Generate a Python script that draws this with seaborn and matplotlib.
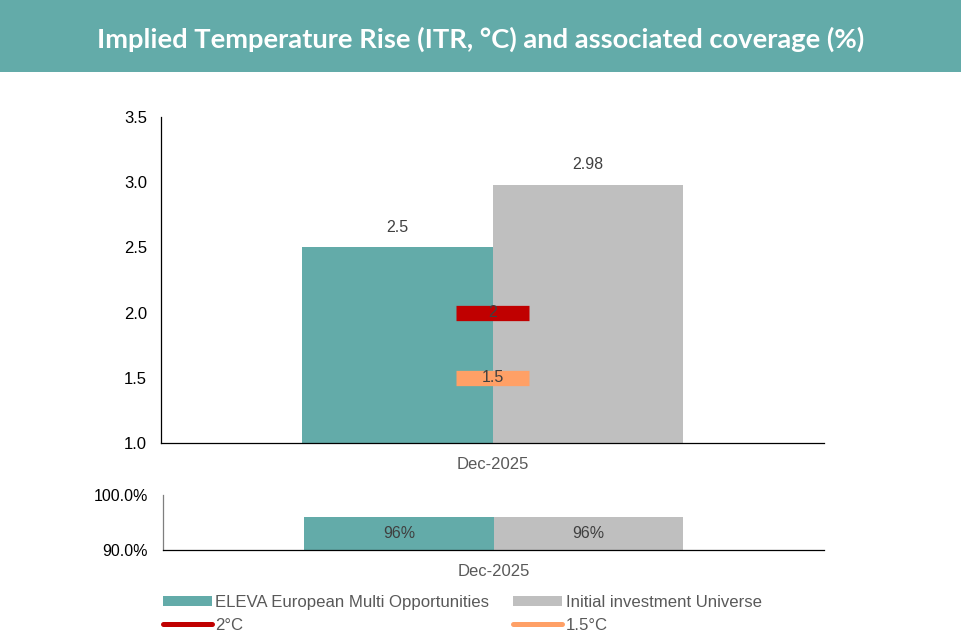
import matplotlib
matplotlib.use("Agg")
import matplotlib.pyplot as plt
import seaborn as sns
import pandas as pd
from matplotlib.patches import Rectangle, Patch
from matplotlib.lines import Line2D
from matplotlib.ticker import FuncFormatter

# ---- data ----
categories = ["Dec-2025"]
series = ["ELEVA European Multi Opportunities", "Initial investment Universe"]
itr_values = [2.5, 2.98]
coverage_values = [0.96, 0.96]
ref_labels = ["2°C", "1.5°C"]
ref_values = [2.0, 1.5]
ref_texts = ["2", "1.5"]
itr_ticks = [1.0, 1.5, 2.0, 2.5, 3.0, 3.5]
cov_ticks = [0.9, 1.0]

teal = "#63ABA9"
grey = "#BFBFBF"
ref_colors = ["#C00000", "#FFA066"]

sns.set_style("white")
plt.rcParams["font.family"] = ["Liberation Sans", "DejaVu Sans"]

fig = plt.figure(figsize=(9.61, 6.34), dpi=100)

# title band
fig.patches.append(Rectangle((0, 1 - 72 / 634), 1, 72 / 634, transform=fig.transFigure,
                             facecolor=teal, edgecolor="none", zorder=0))
fig.text(0.5, 1 - 39 / 634, "Implied Temperature Rise (ITR, °C) and associated coverage (%)",
         ha="center", va="center", color="white", fontsize=19.7, fontweight="bold",
         family=["Lato", "DejaVu Sans"])

df_itr = pd.DataFrame({"cat": categories * 2, "series": series, "val": itr_values})
df_cov = pd.DataFrame({"cat": categories * 2, "series": series, "val": coverage_values})
pal = {series[0]: teal, series[1]: grey}

# ---- top axes ----
ax1 = fig.add_axes([161 / 961, 1 - 443 / 634, 663 / 961, 326 / 634])
sns.barplot(data=df_itr, x="cat", y="val", hue="series", palette=pal, width=0.575,
            ax=ax1, legend=False, saturation=1, linewidth=0)
ax1.set_ylim(1.0, 3.5)
ax1.set_xlim(-0.5, 0.5)
ax1.set_yticks(itr_ticks)
ax1.yaxis.set_major_formatter(FuncFormatter(lambda v, p: f"{v:.1f}"))
for c in ax1.containers:
    ax1.bar_label(c, labels=[f"{v:g}" for v in c.datavalues], padding=9,
                  fontsize=11.5, color="#404040")
for val, col, txt in zip(ref_values, ref_colors, ref_texts):
    ax1.hlines(val, -0.055, 0.055, colors=col, linewidth=11, zorder=5)
    ax1.text(0, val, txt, ha="center", va="center", fontsize=11.5, color="#404040", zorder=6)
ax1.set_xlabel("")
ax1.set_ylabel("")

# ---- bottom axes ----
ax2 = fig.add_axes([163 / 961, 1 - 550 / 634, 661 / 961, 55 / 634])
sns.barplot(data=df_cov, x="cat", y="val", hue="series", palette=pal, width=0.572,
            ax=ax2, legend=False, saturation=1, linewidth=0)
ax2.set_ylim(0.9, 1.0)
ax2.set_xlim(-0.5, 0.5)
ax2.set_yticks(cov_ticks)
ax2.yaxis.set_major_formatter(FuncFormatter(lambda v, p: f"{v * 100:.1f}%"))
for c in ax2.containers:
    for bar, v in zip(c.patches, c.datavalues):
        ax2.text(bar.get_x() + bar.get_width() / 2, (0.9 + v) / 2, f"{v * 100:.0f}%",
                 ha="center", va="center", fontsize=11.5, color="#404040")
ax2.set_xlabel("")
ax2.set_ylabel("")

for ax in (ax1, ax2):
    sns.despine(ax=ax, top=True, right=True)
    ax.spines["left"].set_color("#000000")
    ax.spines["bottom"].set_color("#000000")
    ax.spines["left"].set_linewidth(0.9)
    ax.spines["bottom"].set_linewidth(0.9)
    ax.tick_params(axis="y", length=0, pad=10, labelsize=12, labelcolor="#000000")
    ax.tick_params(axis="x", length=0, pad=10, labelsize=12, labelcolor="#595959")
ax2.spines["left"].set_color("#7F7F7F")
ax2.tick_params(axis="y", pad=11, labelsize=11.5)

# ---- legend ----
handles = [Patch(facecolor=teal, edgecolor="none"),
           Line2D([0], [0], color=ref_colors[0], linewidth=3.6, solid_capstyle="round"),
           Patch(facecolor=grey, edgecolor="none"),
           Line2D([0], [0], color=ref_colors[1], linewidth=3.6, solid_capstyle="round")]
labels = [series[0], ref_labels[0], series[1], ref_labels[1]]
fig.legend(handles, labels, ncol=2, loc="upper left",
           bbox_to_anchor=(163 / 961, 1 - 595 / 634), frameon=False, fontsize=12.1,
           labelcolor="#595959", handlelength=2.9, handleheight=0.5, handletextpad=0.2,
           columnspacing=1.45, labelspacing=0.45, borderpad=0, borderaxespad=0)

fig.savefig("out.png", dpi=100)
